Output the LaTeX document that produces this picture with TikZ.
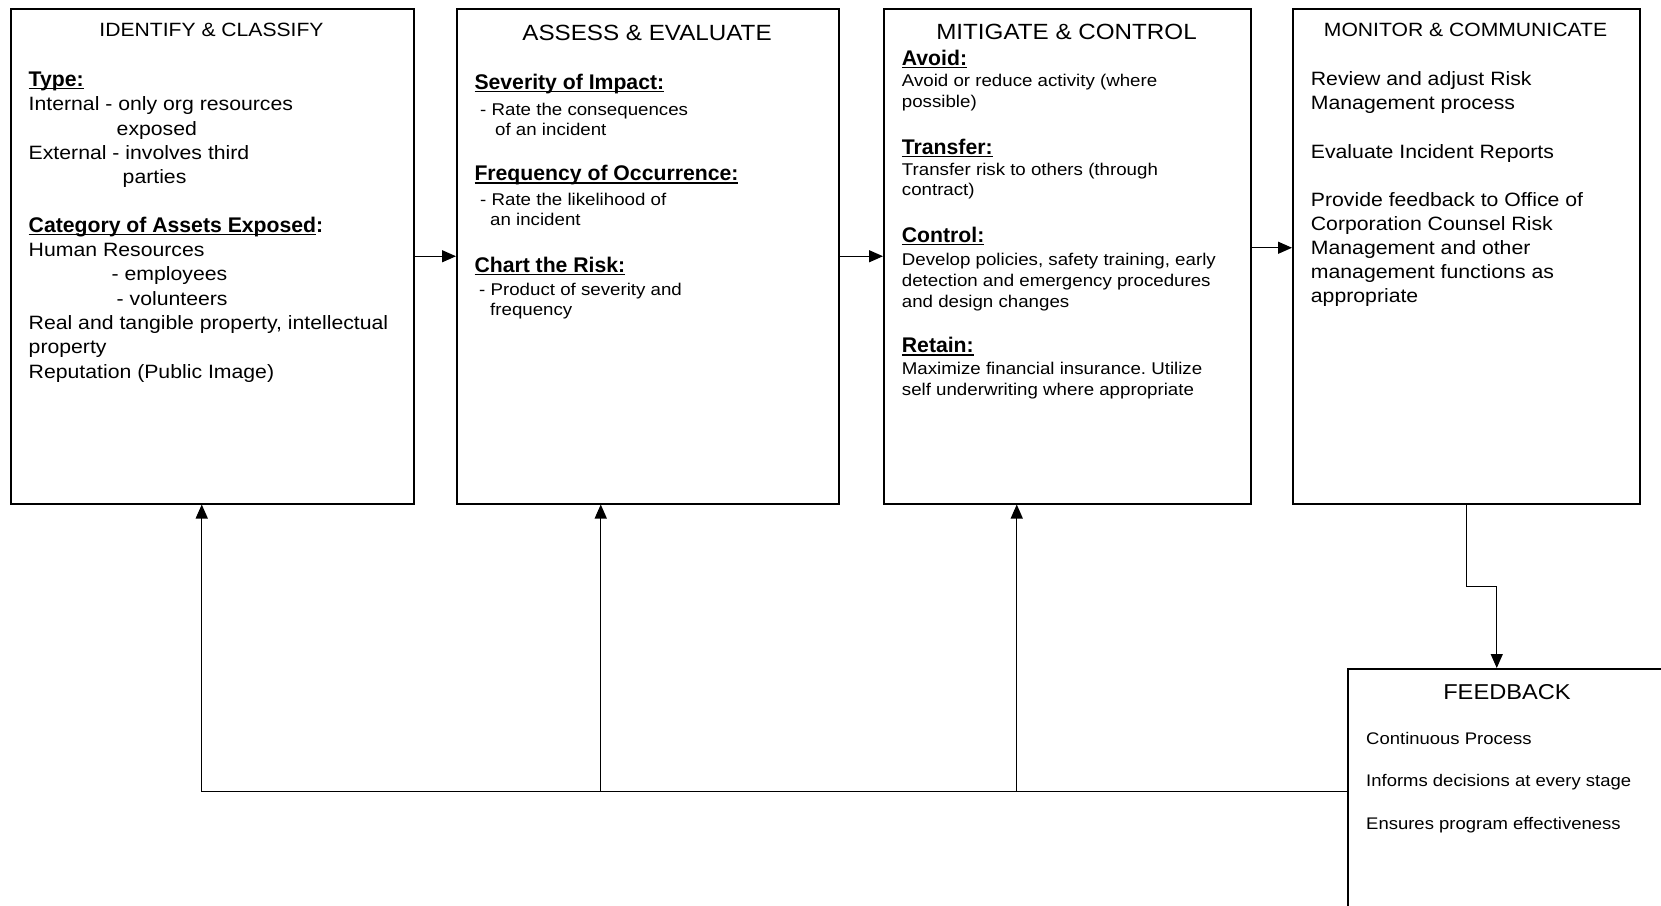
\documentclass[tikz,border=0pt]{standalone}
\usepackage{fontspec}
\setmainfont{Liberation Sans}
\newfontfamily\wide[FakeStretch=1.1]{Liberation Sans}
\usetikzlibrary{arrows.meta,calc}
\frenchspacing

\newcommand{\ulhead}[1]{\setbox0\hbox{#1}\rlap{\rule[-3pt]{\wd0}{1.4pt}}\box0}

\tikzset{
  stage/.style={draw, line width=1.5pt, rectangle, inner sep=0pt, anchor=north west},
  conn/.style={line width=1.3pt, -{Triangle[length=14pt,width=12pt]}},
  title/.style={anchor=base, inner sep=0pt},
  txt/.style={anchor=base west, align=left, inner sep=0pt},
  head/.style={anchor=base west, inner sep=0pt, font=\fontsize{21.2}{24}\selectfont\bfseries},
}

\begin{document}
\begin{tikzpicture}[x=1pt,y=-1pt]
  \useasboundingbox (0,0) rectangle (1661,905);
  \clip (0,0) rectangle (1661,905);

  % the four stages and the feedback box
  \node[stage, minimum width=403pt, minimum height=495pt] (id) at (10,8) {};
  \node[stage, minimum width=382pt, minimum height=495pt] (assess) at (456,8) {};
  \node[stage, minimum width=367pt, minimum height=495pt] (mitig) at (883,8) {};
  \node[stage, minimum width=347pt, minimum height=495pt] (monitor) at (1292,8) {};
  \node[stage, minimum width=320pt, minimum height=282pt] (feedback) at (1347,668) {};

  % identify (text blocks sit on their last baseline)
  \node[title, font=\wide\fontsize{19.2}{22}\selectfont] (idT) at (211.5,36.7) {IDENTIFY \& CLASSIFY};
  \node[txt, font=\wide\fontsize{19.3}{24.3}\selectfont] (idB) at (28.5,378) {%
    \ulhead{\normalfont\fontsize{21.2}{24.3}\selectfont\bfseries Type:}\\
    Internal - only org resources\\
    \hspace*{88pt}exposed\\
    External - involves third\\
    \hspace*{94pt}parties\\[24.3pt]
    \ulhead{\normalfont\fontsize{21.2}{24.3}\selectfont\bfseries Category of Assets Exposed}{\normalfont\fontsize{21.2}{24.3}\selectfont\bfseries:}\\
    Human Resources\\
    \hspace*{83pt}- employees\\
    \hspace*{88pt}- volunteers\\
    Real and tangible property, intellectual\\
    property\\
    Reputation (Public Image)};

  % assess
  \node[title, font=\wide\fontsize{22}{26}\selectfont] (asT) at (647,40) {ASSESS \& EVALUATE};
  \node[head] (asH1) at (474.3,89.3) {\ulhead{Severity of Impact:}};
  \node[txt, font=\wide\fontsize{17}{20.5}\selectfont] (asB1) at (480,135.5)
    {- Rate the consequences\\\hspace*{15pt}of an incident};
  \node[head] (asH2) at (474.3,180.7) {\ulhead{Frequency of Occurrence:}};
  \node[txt, font=\wide\fontsize{17}{20.5}\selectfont] (asB2) at (480,225.5)
    {- Rate the likelihood of\\\hspace*{10pt}an incident};
  \node[head] (asH3) at (474.3,272.3) {\ulhead{Chart the Risk:}};
  \node[txt, font=\wide\fontsize{17}{20.5}\selectfont] (asB3) at (479,315.5)
    {- Product of severity and\\\hspace*{11pt}frequency};

  % mitigate
  \node[title, font=\wide\fontsize{22}{26}\selectfont] (miT) at (1066.5,39.3) {MITIGATE \& CONTROL};
  \node[head] (miH1) at (901.7,65) {\ulhead{Avoid:}};
  \node[txt, font=\wide\fontsize{17}{20.7}\selectfont] (miB1) at (901.7,107.3)
    {Avoid or reduce activity (where\\possible)};
  \node[head] (miH2) at (901.7,154) {\ulhead{Transfer:}};
  \node[txt, font=\wide\fontsize{17}{20.7}\selectfont] (miB2) at (901.7,195.7)
    {Transfer risk to others (through\\contract)};
  \node[head] (miH3) at (901.7,242.3) {\ulhead{Control:}};
  \node[txt, font=\wide\fontsize{17}{20.7}\selectfont] (miB3) at (901.7,307.3)
    {Develop policies, safety training, early\\detection and emergency procedures\\and design changes};
  \node[head] (miH4) at (901.7,352.7) {\ulhead{Retain:}};
  \node[txt, font=\wide\fontsize{17}{20.7}\selectfont] (miB4) at (901.7,395)
    {Maximize financial insurance. Utilize\\self underwriting where appropriate};

  % monitor
  \node[title, font=\wide\fontsize{19.2}{22}\selectfont] (moT) at (1465.5,36.7) {MONITOR \& COMMUNICATE};
  \node[txt, font=\wide\fontsize{19.3}{24.1}\selectfont] (moB) at (1310.7,302.7) {%
    Review and adjust Risk\\
    Management process\\[24.1pt]
    Evaluate Incident Reports\\[24.1pt]
    Provide feedback to Office of\\
    Corporation Counsel Risk\\
    Management and other\\
    management functions as\\
    appropriate};

  % feedback
  \node[title, font=\wide\fontsize{21.5}{24}\selectfont] (fbT) at (1507,699) {FEEDBACK};
  \node[txt, font=\wide\fontsize{16.8}{42.5}\selectfont] (fbB) at (1366,829.3) {%
    Continuous Process\\
    Informs decisions at every stage\\
    Ensures program effectiveness};

  % flow between stages
  \draw[conn] (id.east) -- (assess.west);
  \draw[conn] (assess.east) -- (mitig.west);
  \draw[conn] ([yshift=8.5pt]mitig.east) -- ([yshift=8.5pt]monitor.west);
  \draw[conn] (monitor.south) -- ++(0,82) -| ([xshift=-11pt]feedback.north);

  % feedback loop
  \coordinate (fbout) at ([yshift=18pt]feedback.west);
  \draw[conn] (fbout) -| ([xshift=-10.5pt]id.south);
  \draw[conn] ([xshift=-47pt]assess.south |- fbout) -- ([xshift=-47pt]assess.south);
  \draw[conn] ([xshift=-50.5pt]mitig.south |- fbout) -- ([xshift=-50.5pt]mitig.south);
\end{tikzpicture}
\end{document}
